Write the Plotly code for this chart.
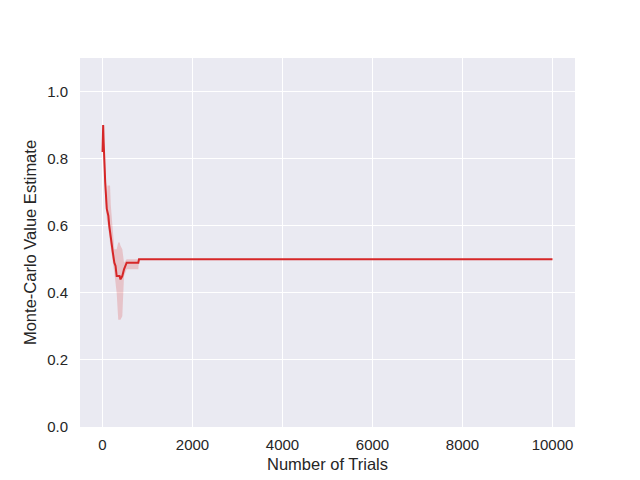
import plotly.graph_objects as go

# Monte-Carlo estimate vs number of trials
trials = [1, 3, 15, 25, 35, 60, 95, 110, 130, 150, 167, 185, 204, 230, 263, 290,
          315, 350, 380, 400, 440, 478, 537, 796, 811, 10000]
estimate = [0.82, 0.90, 0.90, 0.85, 0.80, 0.73, 0.65, 0.64, 0.63, 0.60, 0.58, 0.56,
            0.54, 0.52, 0.49, 0.48, 0.45, 0.45, 0.45, 0.44, 0.45, 0.47, 0.49, 0.49,
            0.50, 0.50]
ci_low = [0.80, 0.80, 0.85, 0.80, 0.76, 0.68, 0.62, 0.61, 0.60, 0.57, 0.55, 0.53,
          0.51, 0.49, 0.46, 0.44, 0.40, 0.32, 0.32, 0.32, 0.33, 0.45, 0.47, 0.47,
          0.50, 0.50]
ci_high = [0.90, 0.90, 0.90, 0.89, 0.84, 0.78, 0.68, 0.72, 0.72, 0.72, 0.72, 0.66,
           0.62, 0.58, 0.53, 0.53, 0.53, 0.55, 0.55, 0.54, 0.53, 0.49, 0.50, 0.50,
           0.50, 0.50]

x_ticks = [0, 2000, 4000, 6000, 8000, 10000]
x_labels = ["0", "2000", "4000", "6000", "8000", "10000"]
y_ticks = [0.0, 0.2, 0.4, 0.6, 0.8, 1.0]

_RED = "#d62728"
_FONT = "Arial, Liberation Sans, DejaVu Sans, sans-serif"

fig = go.Figure()
fig.add_trace(
    go.Scatter(
        x=trials + trials[::-1],
        y=ci_high + ci_low[::-1],
        fill="toself",
        fillcolor="rgba(214,39,40,0.2)",
        line=dict(width=0),
        hoverinfo="skip",
        showlegend=False,
    )
)
fig.add_trace(
    go.Scatter(
        x=trials,
        y=estimate,
        mode="lines",
        line=dict(color=_RED, width=2),
        showlegend=False,
    )
)
# page body has an 8px margin, so the figure is a bit smaller than the window
fig.update_layout(
    width=632,
    height=472,
    margin=dict(l=72, r=65, t=50, b=53),
    plot_bgcolor="#EAEAF2",
    paper_bgcolor="white",
    font=dict(family=_FONT, color="#262626", size=15),
    xaxis=dict(
        range=[-500, 10500],
        tickvals=x_ticks,
        ticktext=x_labels,
        gridcolor="white",
        gridwidth=1.3,
        zeroline=False,
        showline=False,
        ticks="",
        ticklabelstandoff=7,
        automargin=False,
        title=dict(text="Number of Trials", font=dict(size=16.5), standoff=6),
    ),
    yaxis=dict(
        range=[0, 1.1],
        tickvals=y_ticks,
        tickformat=".1f",
        gridcolor="white",
        gridwidth=1.3,
        zeroline=False,
        showline=False,
        ticks="",
        ticklabelstandoff=11,
        automargin=False,
        title=dict(text="Monte-Carlo Value Estimate", font=dict(size=16.5), standoff=6),
    ),
)

fig.write_html("out.html")
